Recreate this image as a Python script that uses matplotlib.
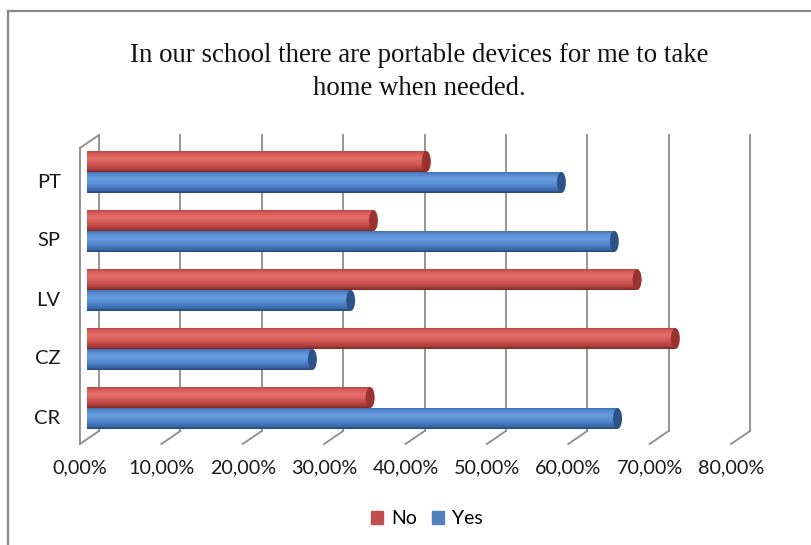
import matplotlib
matplotlib.use('Agg')
import matplotlib.pyplot as plt
import numpy as np
from matplotlib import transforms
from matplotlib.patches import Ellipse, Patch
from matplotlib.lines import Line2D
from matplotlib.colors import LinearSegmentedColormap

# data (percent)
countries = ['CR', 'CZ', 'LV', 'SP', 'PT']
no_pct = [34.8, 72.3, 67.6, 35.2, 41.7]
yes_pct = [65.2, 27.7, 32.4, 64.8, 58.3]
ticks = [0, 10, 20, 30, 40, 50, 60, 70, 80]
tick_labels = ['%d,00%%' % t for t in ticks]
title = 'In our school there are portable devices for me to take\nhome when needed.'

W, H = 811, 545
fig = plt.figure(figsize=(W / 100, H / 100), dpi=100)
ax = fig.add_axes([87 / W, (H - 437.5) / H, 651 / W, 295 / H])
ax.set_xlim(0, 80)
ax.set_ylim(-0.5, 4.5)
for s in ax.spines.values():
    s.set_visible(False)

grid_col = '#8c8c8c'
sans = 'Lato'

# pixel helpers (y measured downward from figure top)
x0, x1 = ax.get_xlim()
ax_w_px, ax_top, ax_bot = 651, 142.5, 437.5


def fx(v, dx=0):
    return (v - x0) / (x1 - x0) + dx / ax_w_px


def fy(ypix):
    return (ax_bot - ypix) / (ax_bot - ax_top)


# back wall gridlines + floor diagonals
for v in ticks:
    ax.plot([fx(v, 12), fx(v, 12)], [fy(135), fy(431)], transform=ax.transAxes,
            color=grid_col, lw=1.3, clip_on=False, zorder=1)
    ax.plot([fx(v, 12), fx(v, -7)], [fy(431), fy(444)], transform=ax.transAxes,
            color=grid_col, lw=1.3, clip_on=False, zorder=1)
# side wall
ax.plot([fx(0, -7), fx(0, -7)], [fy(148), fy(444)], transform=ax.transAxes,
        color=grid_col, lw=1.3, clip_on=False, zorder=1)
ax.plot([fx(0, -7), fx(0, 12)], [fy(148), fy(135)], transform=ax.transAxes,
        color=grid_col, lw=1.3, clip_on=False, zorder=1)

# cylinder shading
red_cmap = LinearSegmentedColormap.from_list('r', [(0, '#b94844'), (0.12, '#d85b57'), (0.35, '#e4706b'),
                                                   (0.65, '#cf524e'), (0.88, '#a93d3a'), (1, '#7e2926')])
blue_cmap = LinearSegmentedColormap.from_list('b', [(0, '#4273b5'), (0.12, '#5689cf'), (0.35, '#6a9de0'),
                                                    (0.65, '#5086cd'), (0.88, '#3a67a6'), (1, '#27487a')])
grad = np.linspace(0, 1, 64).reshape(-1, 1)

y = np.arange(len(countries))
h = 0.355
no_bars = ax.barh(y + h / 2, no_pct, height=h, color='none', edgecolor='none')
yes_bars = ax.barh(y - h / 2, yes_pct, height=h, color='none', edgecolor='none')

for bars, cmap, cap in [(no_bars, red_cmap, '#9a3330'), (yes_bars, blue_cmap, '#2c5287')]:
    for b in bars:
        bx, by, bw, bh = b.get_x(), b.get_y(), b.get_width(), b.get_height()
        im = ax.imshow(grad, cmap=cmap, aspect='auto', origin='upper',
                       extent=[bx, bx + bw, by, by + bh], zorder=2, interpolation='bilinear')
        im.set_clip_path(b)
        ax.add_patch(Ellipse((bx + bw, by + bh / 2), 1.1, bh, facecolor=cap,
                             edgecolor='none', zorder=3))

ax.set_xlim(0, 80)
ax.set_ylim(-0.5, 4.5)

# tick labels
ax.set_xticks(ticks, tick_labels)
ax.set_yticks(y, countries)
ax.tick_params(length=0, labelsize=14.2, labelcolor='#1a1a1a')
ax.tick_params(axis='x', pad=16)
ax.tick_params(axis='y', pad=19)
for lbl in ax.get_xticklabels():
    lbl.set_family(sans)
    lbl.set_transform(lbl.get_transform() + transforms.ScaledTranslation(-7 / 100, 0, fig.dpi_scale_trans))
for lbl in ax.get_yticklabels():
    lbl.set_family(sans)
    lbl.set_size(14.5)
    lbl.set_transform(lbl.get_transform() + transforms.ScaledTranslation(0, -8.5 / 100, fig.dpi_scale_trans))

# title
fig.text(419 / W, 1 - 72 / H, title, ha='center', va='center', family='Liberation Serif',
         size=19.3, linespacing=1.42, color='#111111')

# legend
fig.legend(handles=[Patch(color='#c0504d'), Patch(color='#4f81bd')], labels=['No', 'Yes'],
           loc='center', bbox_to_anchor=(427 / W, 1 - 519 / H), ncol=2, frameon=False,
           handlelength=0.6, handleheight=0.6, columnspacing=0.8, handletextpad=0.4,
           prop={'family': sans, 'size': 14})

# chart border (only left and top are inside the picture)
fig.add_artist(Line2D([8 / W, 8 / W], [0, 1 - 11 / H], color='#878787', lw=1.6))
fig.add_artist(Line2D([8 / W, 1], [1 - 11 / H, 1 - 11 / H], color='#878787', lw=1.6))

fig.savefig('out.png', dpi=100)
